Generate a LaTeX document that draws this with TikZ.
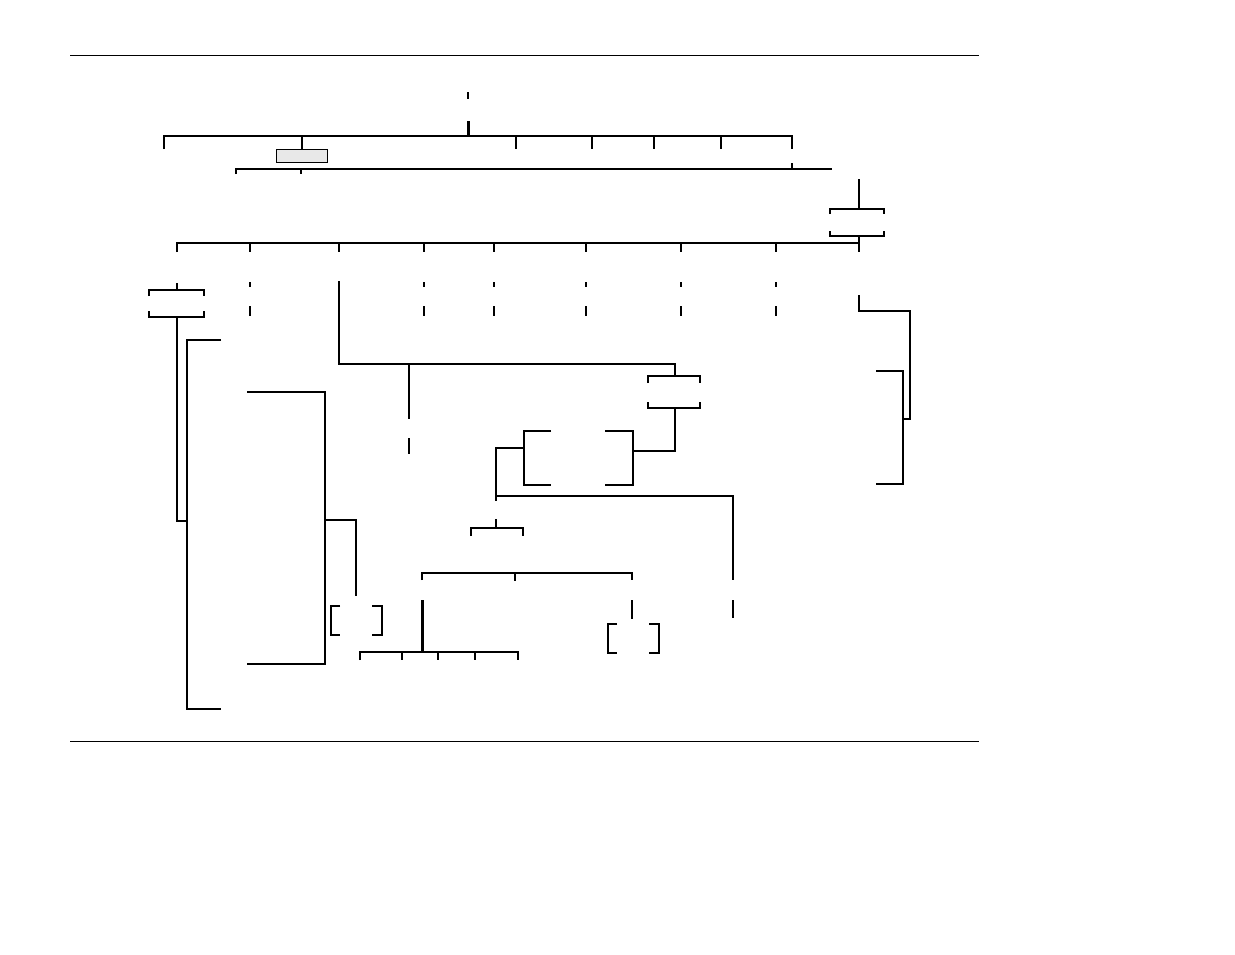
\documentclass[tikz,border=0pt]{standalone}
\begin{document}
\begin{tikzpicture}[x=1pt,y=-1pt,
  ln/.style={line width=2.3pt,line join=miter},
  thk/.style={line width=3pt},
  rule/.style={line width=1pt},
  graybox/.style={draw,line width=1pt,fill=black!9,minimum width=51pt,minimum height=13pt,inner sep=0pt}]
\useasboundingbox (0,0) rectangle (1235,954);
% horizontal rules
\draw[rule] (70,55) -- (979,55);
\draw[rule] (70,741) -- (979,741);
% top level
\draw[ln] (468,92)--(468,99);
\draw[ln,thk] (468,121)--(468,136);
\draw[ln] (164,149)--(164,136)--(792,136)--(792,149);
\foreach \x in {302,516,592,654,721} \draw[ln] (\x,136)--(\x,149);
\node[graybox] (gb) at (301.5,155.5) {};
\draw[ln] (236,174)--(236,169)--(832,169);
\draw[ln] (301,169)--(301,174);
\draw[ln] (792,163)--(792,169);
% right box
\draw[ln] (859,179)--(859,209);
\draw[ln] (830,214)--(830,209)--(884,209)--(884,214);
\draw[ln] (830,231)--(830,236)--(884,236)--(884,231);
\draw[ln] (859,236)--(859,252);
\draw[ln] (177,252)--(177,243)--(859,243);
\foreach \x in {250,339,424,494,586,681,776} \draw[ln] (\x,243)--(\x,252);
% dashed ticks
\foreach \x in {250,424,494,586,681,776} {
  \draw[ln] (\x,282)--(\x,287);
  \draw[ln] (\x,306)--(\x,316);
}
% left box
\draw[ln] (177,283)--(177,290);
\draw[ln] (149,296)--(149,290)--(204,290)--(204,296);
\draw[ln] (149,311)--(149,317)--(204,317)--(204,311);
\draw[ln] (177,317)--(177,521)--(188,521);
\draw[ln] (221,340)--(187,340)--(187,709)--(221,709);
% middle
\draw[ln] (339,281)--(339,364)--(675,364)--(675,376);
\draw[ln] (409,364)--(409,419);
\draw[ln] (409,438)--(409,454);
\draw[ln] (648,383)--(648,376)--(700,376)--(700,383);
\draw[ln] (648,402)--(648,408)--(700,408)--(700,402);
\draw[ln] (675,408)--(675,451)--(633,451);
\draw[ln] (605,431)--(633,431)--(633,485)--(605,485);
\draw[ln] (551,431)--(524,431)--(524,485)--(551,485);
\draw[ln] (524,448)--(496,448)--(496,501);
\draw[ln] (496,496)--(733,496)--(733,580);
\draw[ln] (496,519)--(496,528);
\draw[ln] (471,536)--(471,528)--(523,528)--(523,536);
\draw[ln] (247,392)--(325,392)--(325,664)--(247,664);
\draw[ln] (325,520)--(356,520)--(356,596);
% right side
\draw[ln] (859,295)--(859,311)--(910,311)--(910,419)--(903,419);
\draw[ln] (876,371)--(903,371)--(903,484)--(876,484);
% bottom
\draw[ln] (422,580)--(422,573)--(632,573)--(632,580);
\draw[ln] (515,573)--(515,581);
\draw[ln] (632,600)--(632,619);
\draw[ln] (733,600)--(733,618);
\draw[ln] (617,624)--(608,624)--(608,653)--(617,653);
\draw[ln] (649,624)--(659,624)--(659,653)--(649,653);
\draw[ln] (340,606)--(331,606)--(331,635)--(340,635);
\draw[ln] (372,606)--(382,606)--(382,635)--(372,635);
\draw[ln,thk] (422,600)--(422,653);
\draw[ln] (360,660)--(360,652)--(518,652)--(518,660);
\foreach \x in {402,438,475} \draw[ln] (\x,652)--(\x,660);
\end{tikzpicture}
\end{document}
